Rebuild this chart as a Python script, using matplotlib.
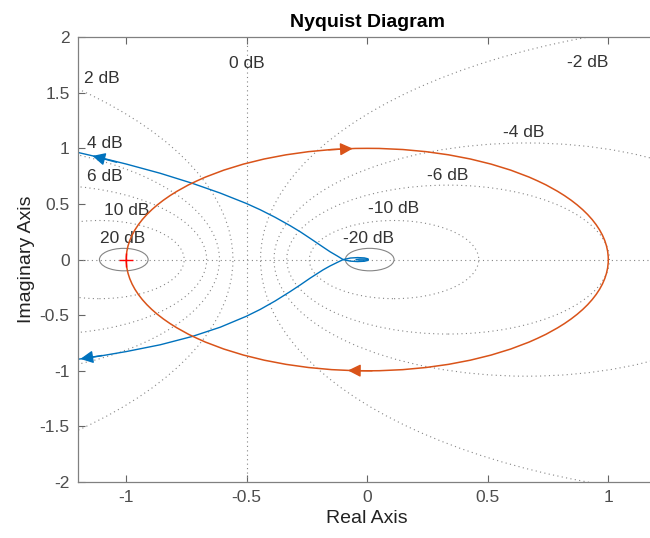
import numpy as np
import matplotlib
matplotlib.use('agg')
import matplotlib.pyplot as plt
from matplotlib.patches import Circle

plt.rcParams['font.family'] = ['Liberation Sans', 'DejaVu Sans']
plt.rcParams['axes.unicode_minus'] = False

# grid: constant closed-loop magnitude circles (dB)
m_db = [-20, -10, -6, -4, -2, 2, 4, 6, 10, 20]

# grid labels
lab_txt = ['0 dB', '2 dB', '4 dB', '6 dB', '10 dB', '20 dB',
           '-2 dB', '-4 dB', '-6 dB', '-10 dB', '-20 dB']
lab_x = [-0.50, -1.10, -1.09, -1.09, -1.00, -1.015,
         0.913, 0.651, 0.332, 0.108, 0.004]
lab_y = [1.76, 1.63, 1.04, 0.745, 0.44, 0.19,
         1.77, 1.14, 0.76, 0.455, 0.19]

# orange curve: circle (centre, radius)
or_center = (0.0, 0.0)
or_radius = 1.0

# blue curve, upper branch (from the left edge into the origin)
bt_re = [-1.232, -1.2, -1.108, -1.0, -0.859, -0.726, -0.61, -0.502, -0.444,
         -0.382, -0.32, -0.278, -0.237, -0.183, -0.154, -0.124, -0.1,
         -0.07, -0.04, -0.012, 0.003, 0.004, -0.008, -0.03, -0.045]
bt_im = [0.979, 0.963, 0.917, 0.859, 0.776, 0.686, 0.598, 0.505, 0.448,
         0.38, 0.305, 0.25, 0.191, 0.112, 0.07, 0.032, 0.0,
         -0.014, -0.018, -0.015, -0.007, 0.001, 0.005, 0.005, 0.001]
# blue curve, lower branch
bb_re = [-1.232, -1.2, -1.108, -1.0, -0.859, -0.726, -0.61, -0.502, -0.444,
         -0.382, -0.32, -0.278, -0.237, -0.183, -0.154, -0.124, -0.1,
         -0.07, -0.04, -0.012, 0.003, 0.004, -0.008, -0.03, -0.045]
bb_im = [-0.906, -0.896, -0.867, -0.827, -0.766, -0.691, -0.608, -0.51, -0.448,
         -0.372, -0.288, -0.228, -0.167, -0.092, -0.057, -0.025, 0.0,
         0.014, 0.018, 0.015, 0.007, -0.001, -0.005, -0.005, -0.001]

# arrow heads (tail, tip) along the curves
arrows = [((-0.16, 0.987), (-0.06, 0.998), '#D95319'),
          ((0.02, -0.9998), (-0.08, -0.997), '#D95319'),
          ((-1.04, 0.875), (-1.14, 0.932), '#0072BD'),
          ((-1.10, -0.862), (-1.19, -0.893), '#0072BD')]

grid_c = '#858585'
dots = (0, (1, 3))

fig = plt.figure(figsize=(6.5, 5.38), dpi=100)
ax = fig.add_axes([0.12, 0.104, 0.89, 0.827])

for db in m_db:
    M = 10 ** (db / 20.0)
    c = -M**2 / (M**2 - 1)
    r = abs(M / (M**2 - 1))
    if abs(db) == 20:
        ax.add_patch(Circle((c, 0), r, fill=False, ec=grid_c, lw=0.8))
    else:
        ax.add_patch(Circle((c, 0), r, fill=False, ec=grid_c, lw=0.8, ls=dots))
ax.axhline(0, color=grid_c, lw=0.8, ls=dots)
ax.axvline(-0.5, color=grid_c, lw=0.8, ls=dots)

for t, x, y in zip(lab_txt, lab_x, lab_y):
    ax.text(x, y, t, ha='center', va='center', fontsize=12.5, color='#333333')

ax.add_patch(Circle(or_center, or_radius, fill=False, ec='#D95319', lw=1.1, zorder=3))
ax.plot(bt_re, bt_im, color='#0072BD', lw=1.0)
ax.plot(bb_re, bb_im, color='#0072BD', lw=1.0)

for tail, tip, col in arrows:
    ax.annotate('', xy=tip, xytext=tail,
                arrowprops=dict(arrowstyle='-|>', color=col, lw=1.0,
                                mutation_scale=19, shrinkA=0, shrinkB=0))

ax.plot([-1], [0], marker='+', color='red', ms=10, mew=1.0, zorder=4)

ax.set_xlim(-1.2, 1.2)
ax.set_ylim(-2, 2)
ax.set_xticks([-1, -0.5, 0, 0.5, 1])
ax.set_yticks([-2, -1.5, -1, -0.5, 0, 0.5, 1, 1.5, 2])
ax.set_xticklabels(['-1', '-0.5', '0', '0.5', '1'])
ax.set_yticklabels(['-2', '-1.5', '-1', '-0.5', '0', '0.5', '1', '1.5', '2'])
ax.tick_params(direction='in', length=5, width=0.8, colors='#666666',
               labelcolor='#4d4d4d', labelsize=12.5, top=True, right=True, pad=6)
for s in ax.spines.values():
    s.set_color('#808080')
    s.set_linewidth(0.9)

ax.set_title('Nyquist Diagram', fontsize=14, fontweight='bold', color='black', pad=7)
ax.set_xlabel('Real Axis', fontsize=14, color='#222222', labelpad=3)
ax.set_ylabel('Imaginary Axis', fontsize=14, color='#222222', labelpad=3)

fig.savefig('out.png', dpi=100)
